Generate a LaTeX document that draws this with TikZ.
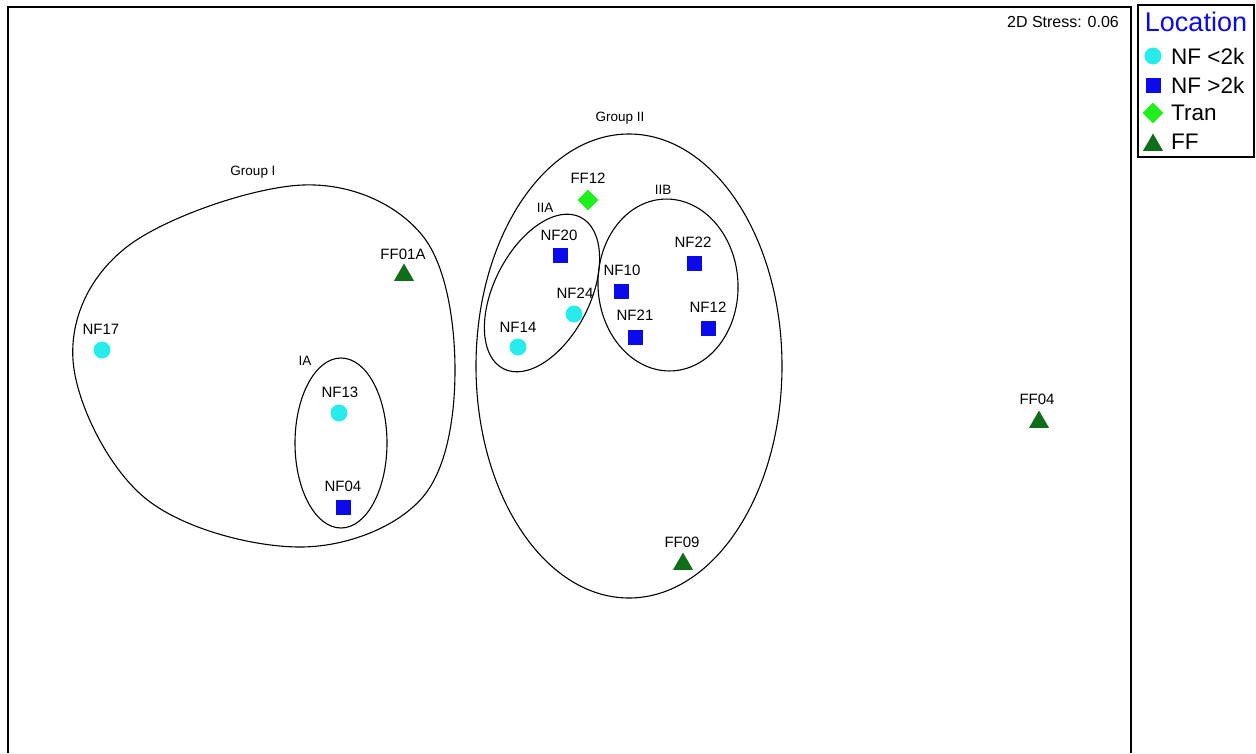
\documentclass[tikz,border=0pt]{standalone}
\usepackage{fontspec}
\setmainfont{Liberation Sans}
\usetikzlibrary{shapes.geometric}
\definecolor{nflow}{RGB}{40,235,235}
\definecolor{nfhigh}{RGB}{10,10,235}
\definecolor{tran}{RGB}{30,240,30}
\definecolor{ffar}{RGB}{15,110,25}
\begin{document}
\begin{tikzpicture}[x=1pt,y=-1pt,
    lbl/.style={font=\fontsize{15}{18}\selectfont, inner sep=0pt, text depth=0pt},
    grp/.style={font=\fontsize{13.5}{16}\selectfont, inner sep=0pt, text depth=0pt},
    key/.style={font=\fontsize{22.5}{26}\selectfont, inner sep=0pt, text depth=0pt, anchor=west},
    lowk/.style={circle, fill=nflow, inner sep=0pt, minimum size=17pt},
    highk/.style={rectangle, fill=nfhigh, inner sep=0pt, minimum size=15pt},
    trans/.style={diamond, fill=tran, inner sep=0pt, minimum size=21pt},
    farf/.style={regular polygon, regular polygon sides=3, fill=ffar, inner sep=0pt, minimum size=23pt},
    hull/.style={draw, line width=1.1pt}]
  \useasboundingbox (0,0) rectangle (1256,753);
  \draw[line width=1.4pt] (8,753) |- (1131,7) -- (1131,753);
  \draw[line width=1.2pt] (1138,5) rectangle (1254,157);
  % groups
  \draw[hull] plot[smooth cycle, tension=0.6] coordinates {
    (303,185) (422,235) (455,370) (422,498) (300,547)
    (145,498) (73,360) (128,246)};
  \draw[hull] (341,443) ellipse [x radius=46, y radius=85];
  \draw[hull] (629,366) ellipse [x radius=153, y radius=232];
  \draw[hull, rotate around={63:(542,293)}] (542,293) ellipse [x radius=85, y radius=48];
  \draw[hull, rotate around={3:(668,285)}] (668,285) ellipse [x radius=70, y radius=86];
  \path
    (253,171) node[grp] (g1) {Group I}
    (305,361) node[grp] (g1a) {IA}
    (620,117) node[grp] (g2) {Group II}
    (545,208) node[grp] (g2a) {IIA}
    (663,190) node[grp] (g2b) {IIB};
  % samples
  \path
    (102,350) node[lowk] (nf17) {}
    (339,413) node[lowk] (nf13) {}
    (343,507) node[highk] (nf04) {}
    (404,275) node[farf] (ff01a) {}
    (588,200) node[trans] (ff12) {}
    (560,255) node[highk] (nf20) {}
    (574,314) node[lowk] (nf24) {}
    (518,347) node[lowk] (nf14) {}
    (621,291) node[highk] (nf10) {}
    (694,263) node[highk] (nf22) {}
    (635,337) node[highk] (nf21) {}
    (708,328) node[highk] (nf12) {}
    (683,564) node[farf] (ff09) {}
    (1039,422) node[farf] (ff04) {};
  \path
    (101,329) node[lbl] (nf17l) {NF17}
    (340,392) node[lbl] (nf13l) {NF13}
    (343,486) node[lbl] (nf04l) {NF04}
    (403,254) node[lbl] (ff01al) {FF01A}
    (588,178) node[lbl] (ff12l) {FF12}
    (559,235) node[lbl] (nf20l) {NF20}
    (575,293) node[lbl] (nf24l) {NF24}
    (518,327) node[lbl] (nf14l) {NF14}
    (622,270) node[lbl] (nf10l) {NF10}
    (693,242) node[lbl] (nf22l) {NF22}
    (635,315) node[lbl] (nf21l) {NF21}
    (708,307) node[lbl] (nf12l) {NF12}
    (682,542) node[lbl] (ff09l) {FF09}
    (1037,399) node[lbl] (ff04l) {FF04};
  \node[font=\fontsize{16}{19}\selectfont, inner sep=0pt, text depth=0pt] (stress) at (1063,22) {2D Stress: 0.06};
  % legend
  \node[font=\fontsize{27}{30}\selectfont, inner sep=0pt, text depth=0pt, text=nfhigh] (loc) at (1196,22) {Location};
  \path
    (1153,56) node[lowk] (k1) {}
    (1153,85) node[highk] (k2) {}
    (1153,113) node[trans] (k3) {}
    (1153,145) node[farf] (k4) {};
  \path
    (1171,56) node[key] (k1l) {NF <2k}
    (1171,85) node[key] (k2l) {NF >2k}
    (1171,113) node[key] (k3l) {Tran}
    (1171,142) node[key] (k4l) {FF};
\end{tikzpicture}
\end{document}
